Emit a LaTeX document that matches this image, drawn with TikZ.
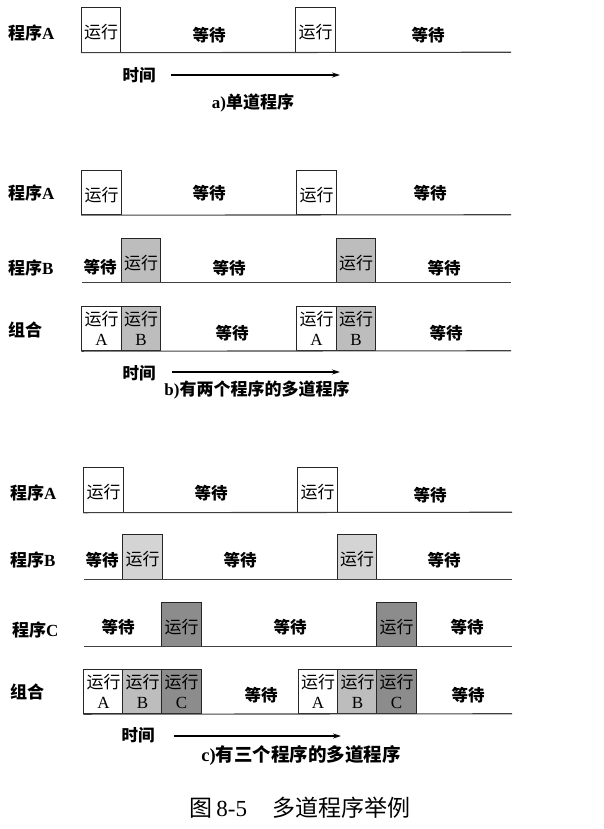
\documentclass[tikz,border=0pt]{standalone}
\usepackage{fontspec}
\setmainfont{Liberation Serif}
\newfontfamily\cjk{Noto Sans CJK SC}
\usetikzlibrary{arrows.meta}
\newcommand{\zh}[1]{{\cjk #1}}
\definecolor{runB}{gray}{0.74}
\definecolor{runBl}{gray}{0.83}
\definecolor{runC}{gray}{0.55}

\begin{document}
\begin{tikzpicture}[x=1pt,y=-1pt]
  \tikzstyle{run}=[draw=black!85, line width=0.9pt, minimum width=39.5pt, minimum height=44.5pt, inner sep=0pt, text height=17pt, text depth=0pt, font=\fontsize{17}{18}\selectfont]
  \tikzstyle{both}=[draw=black!85, line width=0.9pt, minimum width=39.5pt, minimum height=44.5pt, inner sep=0pt, align=center, font=\fontsize{17}{20}\selectfont]
  \tikzstyle{label}=[anchor=west, inner sep=0pt, font=\fontsize{17}{18}\selectfont\bfseries]
  \tikzstyle{wait}=[inner sep=0pt, font=\fontsize{16.5}{18}\selectfont\bfseries]
  \tikzstyle{caption}=[inner sep=0pt, font=\fontsize{17}{19}\selectfont\bfseries]
  \tikzstyle{base}=[line width=1.1pt, black!75]
  \tikzstyle{time}=[line width=1.1pt, -{Stealth[length=8pt,width=5pt]}]

  \useasboundingbox (0,0) rectangle (603,829);

  % a) single program
  \node[label] (laA) at (8,33) {\zh{程序}A};
  \node[run] (aA1) at (101,30)   {\zh{运行}};
  \node[run] (aA2) at (315.5,30) {\zh{运行}};
  \node[wait] (aW1) at (209,35) {\zh{等待}};
  \node[wait] (aW2) at (428,35) {\zh{等待}};
  \coordinate (aEnd) at (511,52.25);
  \draw[base] (aA1.south west) -- (aEnd);
  \node[wait] (aT) at (139,75) {\zh{时间}};
  \coordinate (aS) at (171,75);
  \coordinate (aE) at (340,75);
  \draw[time] (aS) -- (aE);
  \node[caption] (aCap) at (253,103) {a)\zh{单道程序}};

  % b) two programs
  \node[label] (lbA) at (8,193) {\zh{程序}A};
  \node[run] (bA1) at (101.5,192.5) {\zh{运行}};
  \node[run] (bA2) at (316.5,192.5) {\zh{运行}};
  \node[wait] (bWA1) at (209,193) {\zh{等待}};
  \node[wait] (bWA2) at (430,193) {\zh{等待}};
  \coordinate (bAEnd) at (511,214.75);
  \draw[base] (bA1.south west) -- (bAEnd);

  \node[label] (lbB) at (8,268) {\zh{程序}B};
  \node[run, fill=runB] (bB1) at (141,260.5) {\zh{运行}};
  \node[run, fill=runB] (bB2) at (356,260.5) {\zh{运行}};
  \node[wait] (bWB1) at (100,267) {\zh{等待}};
  \node[wait] (bWB2) at (229,268) {\zh{等待}};
  \node[wait] (bWB3) at (444,268) {\zh{等待}};
  \coordinate (bBStart) at (82,282.75);
  \coordinate (bBEnd) at (511,282.75);
  \draw[base] (bBStart) -- (bBEnd);

  \node[label] (lbX) at (8,330) {\zh{组合}};
  \node[both] (bX1) at (101.5,328.5) {\zh{运行}\\A};
  \node[both, fill=runB] (bX2) at (141,328.5) {\zh{运行}\\B};
  \node[both] (bX3) at (316.5,328.5) {\zh{运行}\\A};
  \node[both, fill=runB] (bX4) at (356,328.5) {\zh{运行}\\B};
  \node[wait] (bWX1) at (232,333) {\zh{等待}};
  \node[wait] (bWX2) at (446,333) {\zh{等待}};
  \coordinate (bXEnd) at (511,350.75);
  \draw[base] (bX1.south west) -- (bXEnd);
  \node[wait] (bT) at (139,373) {\zh{时间}};
  \coordinate (bS) at (172,372);
  \coordinate (bE) at (340,372);
  \draw[time] (bS) -- (bE);
  \node[caption] (bCap) at (257,390) {b)\zh{有两个程序的多道程序}};

  % c) three programs
  \node[label] (lcA) at (10,493) {\zh{程序}A};
  \node[run] (cA1) at (103.5,490) {\zh{运行}};
  \node[run] (cA2) at (317.5,490) {\zh{运行}};
  \node[wait] (cWA1) at (211,493) {\zh{等待}};
  \node[wait] (cWA2) at (430,495) {\zh{等待}};
  \coordinate (cAEnd) at (512,512.25);
  \draw[base] (cA1.south west) -- (cAEnd);

  \node[label] (lcB) at (10,560) {\zh{程序}B};
  \node[run, fill=runBl] (cB1) at (142.5,557) {\zh{运行}};
  \node[run, fill=runBl] (cB2) at (357,557) {\zh{运行}};
  \node[wait] (cWB1) at (102,560) {\zh{等待}};
  \node[wait] (cWB2) at (240,560) {\zh{等待}};
  \node[wait] (cWB3) at (444,560) {\zh{等待}};
  \coordinate (cBStart) at (84,579.25);
  \coordinate (cBEnd) at (512,579.25);
  \draw[base] (cBStart) -- (cBEnd);

  \node[label] (lcC) at (12,630) {\zh{程序}C};
  \node[run, fill=runC] (cC1) at (181.5,624.5) {\zh{运行}};
  \node[run, fill=runC] (cC2) at (396.5,624.5) {\zh{运行}};
  \node[wait] (cWC1) at (118,627) {\zh{等待}};
  \node[wait] (cWC2) at (290,627) {\zh{等待}};
  \node[wait] (cWC3) at (467,627) {\zh{等待}};
  \coordinate (cCStart) at (84,646.75);
  \coordinate (cCEnd) at (512,646.75);
  \draw[base] (cCStart) -- (cCEnd);

  \node[label] (lcX) at (10,692) {\zh{组合}};
  \node[both] (cX1) at (103.5,691.5) {\zh{运行}\\A};
  \node[both, fill=runB] (cX2) at (142.5,691.5) {\zh{运行}\\B};
  \node[both, fill=runC] (cX3) at (181.5,691.5) {\zh{运行}\\C};
  \node[both] (cX4) at (318,691.5) {\zh{运行}\\A};
  \node[both, fill=runB] (cX5) at (357.5,691.5) {\zh{运行}\\B};
  \node[both, fill=runC] (cX6) at (396.5,691.5) {\zh{运行}\\C};
  \node[wait] (cWX1) at (261,695) {\zh{等待}};
  \node[wait] (cWX2) at (468,695) {\zh{等待}};
  \coordinate (cXEnd) at (512,713.75);
  \draw[base] (cX1.south west) -- (cXEnd);
  \node[wait] (cT) at (138,735) {\zh{时间}};
  \coordinate (cS) at (174,736);
  \coordinate (cE) at (341,736);
  \draw[time] (cS) -- (cE);
  \node[caption, font=\fontsize{18.5}{20}\selectfont\bfseries] (cCap) at (301,755) {c)\zh{有三个程序的多道程序}};

  \node[inner sep=0pt, font=\fontsize{23}{25}\selectfont] (title) at (300,808) {\zh{图}\,8-5\hspace{1.1em}\zh{多道程序举例}};
\end{tikzpicture}
\end{document}
